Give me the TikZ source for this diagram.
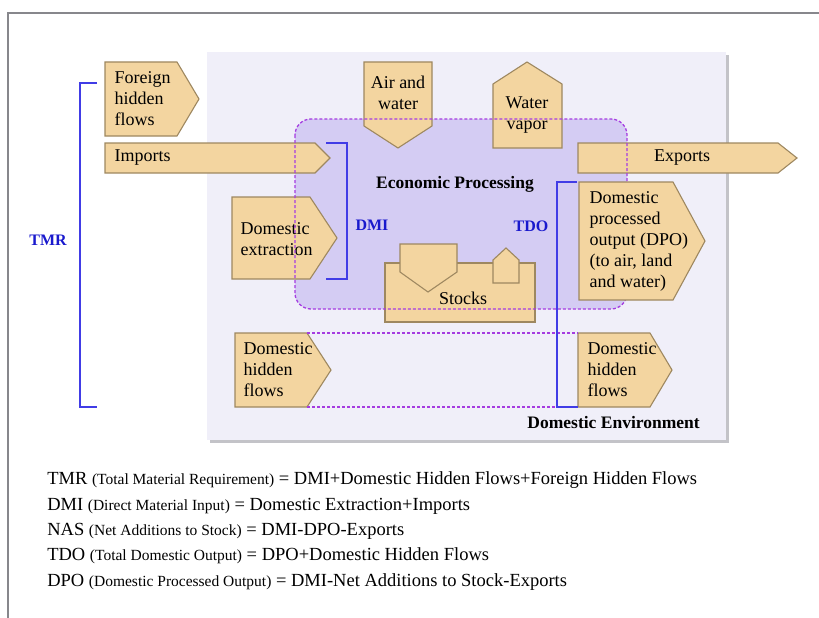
\documentclass[tikz,border=0pt]{standalone}
\usepackage{fontspec}
\setmainfont{Liberation Serif}
\usepackage{tikz}
\usetikzlibrary{calc}
\definecolor{tanfill}{RGB}{243,213,160}
\definecolor{tanline}{RGB}{158,136,96}
\definecolor{envfill}{RGB}{240,239,249}
\definecolor{ecofill}{RGB}{212,204,243}
\definecolor{dashcol}{RGB}{165,60,225}
\definecolor{brk}{RGB}{65,60,230}
\definecolor{lblblue}{RGB}{25,25,205}
\definecolor{framegray}{RGB}{135,135,140}
\definecolor{shadowgray}{RGB}{195,195,200}
\newcommand{\parensize}[1]{{\fontsize{15.5}{18}\selectfont #1}}

\begin{document}
\begin{tikzpicture}[x=1pt,y=-1pt,semithick]
  \tikzstyle{flow}=[draw=tanline,fill=tanfill,line width=1.1pt]
  \tikzstyle{txt}=[font=\fontsize{18}{21}\selectfont,inner sep=0pt,align=left,anchor=west]
  \tikzstyle{ctxt}=[font=\fontsize{18}{21}\selectfont,inner sep=0pt,align=center]
  \tikzstyle{title}=[font=\fontsize{17.5}{21}\selectfont\bfseries,inner sep=0pt]
  \tikzstyle{bracket}=[draw=brk,line width=1.6pt]
  \tikzstyle{blab}=[font=\fontsize{16}{19}\selectfont\bfseries,text=lblblue,inner sep=0pt]
  \tikzstyle{eco}=[draw=dashcol,line width=1.3pt,dash pattern=on 3pt off 2pt]
  \tikzstyle{formula}=[font=\fontsize{18.5}{22}\selectfont,inner sep=0pt,anchor=base west]

  \useasboundingbox (0,0) rectangle (819,618);
  % frame
  \draw[framegray,line width=1.4pt] (8,618) -- (8,13) -- (819,13);

  % domestic environment
  \fill[shadowgray] (210,55) rectangle (729,443);
  \fill[envfill] (207,52) rectangle (726,440);
  \node[title,anchor=east] (env) at (700,423) {Domestic Environment};

  % economic processing
  \fill[ecofill,rounded corners=16pt] (295,119) rectangle (627,309);
  \node[title] (eco) at (455,184) {Economic Processing};

  % inputs
  \draw[flow] (105,62) -- (177,62) -- (199,99) -- (177,136) -- (105,136) -- cycle
    node[txt] (fhf) at (114,99) {Foreign\\hidden\\flows};
  \draw[flow] (105,143) -- (315,143) -- (330,158) -- (315,173) -- (105,173) -- cycle
    node[txt] (imp) at (114,158) {Imports};
  \draw[flow] (232,197) -- (310,197) -- (337,238) -- (310,279) -- (232,279) -- cycle
    node[txt] (dext) at (240,239) {Domestic\\extraction};
  \draw[flow] (364,62) -- (432,62) -- (432,126) -- (398,148) -- (364,126) -- cycle
    node[ctxt] (air) at (398,93) {Air and\\water};

  % outputs
  \draw[flow] (493,84) -- (527,62) -- (562,84) -- (562,148) -- (493,148) -- cycle
    node[ctxt] (vap) at (527,115) {Water\\vapor};
  \draw[flow] (578,143) -- (778,143) -- (797,158) -- (778,173) -- (578,173) -- cycle
    node[ctxt] (exp) at (682,158) {Exports};

  % stocks
  \draw[flow] (385,263) rectangle (535,322);
  \draw[flow] (400,244) -- (457,244) -- (457,272) -- (428,292) -- (400,272) -- cycle;
  \draw[flow] (493,260) -- (506,248) -- (519,260) -- (519,283) -- (493,283) -- cycle;
  \node[ctxt] (stk) at (463,298) {Stocks};

  % hidden flows
  \draw[flow] (235,333) -- (307,333) coordinate (hfa) -- (331,370) -- (307,407) coordinate (hfb) -- (235,407) -- cycle
    node[txt] (dhfl) at (243,370) {Domestic\\hidden\\flows};
  \draw[flow] (578,333) coordinate (hfc) -- (650,333) -- (672,370) -- (650,407) -- (578,407) coordinate (hfd) -- cycle
    node[txt] (dhfr) at (587,370) {Domestic\\hidden\\flows};
  \draw[eco] (hfa) -- (hfc);
  \draw[eco] (hfb) -- (hfd);

  % economic processing outline
  \draw[eco,rounded corners=16pt] (295,119) rectangle (627,309);

  \draw[flow] (579,182) -- (673,182) -- (705,241) -- (673,300) -- (579,300) -- cycle
    node[txt] (dpo) at (589,241) {Domestic\\processed\\output (DPO)\\(to air, land\\and water)};

  % brackets
  \draw[bracket] (97,83) -| (80,407) -- (97,407);
  \node[blab] (tmr) at (48,240) {TMR};
  \draw[bracket] (326,143) -| (347,279) -- (326,279);
  \node[blab] (dmi) at (372,225) {DMI};
  \draw[bracket] (577,182) -| (557,407) -- (578,407);
  \node[blab] (tdo) at (531,226) {TDO};

  % definitions
  \node[formula] (f1) at (47,484) {TMR \parensize{(Total Material Requirement)} = DMI+Domestic Hidden Flows+Foreign Hidden Flows};
  \node[formula] (f2) at (47,510) {DMI \parensize{(Direct Material Input)} = Domestic Extraction+Imports};
  \node[formula] (f3) at (47,535) {NAS \parensize{(Net Additions to Stock)} = DMI-DPO-Exports};
  \node[formula] (f4) at (47,560) {TDO \parensize{(Total Domestic Output)} = DPO+Domestic Hidden Flows};
  \node[formula] (f5) at (47,586) {DPO \parensize{(Domestic Processed Output)} = DMI-Net Additions to Stock-Exports};
\end{tikzpicture}
\end{document}
